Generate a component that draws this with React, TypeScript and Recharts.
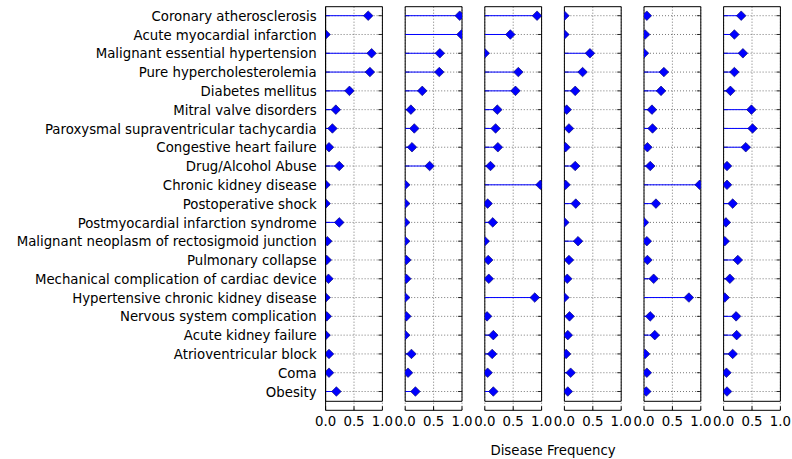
import { BarChart, Bar, XAxis, YAxis, CartesianGrid, ReferenceArea } from "recharts";

const categories = [
  "Coronary atherosclerosis",
  "Acute myocardial infarction",
  "Malignant essential hypertension",
  "Pure hypercholesterolemia",
  "Diabetes mellitus",
  "Mitral valve disorders",
  "Paroxysmal supraventricular tachycardia",
  "Congestive heart failure",
  "Drug/Alcohol Abuse",
  "Chronic kidney disease",
  "Postoperative shock",
  "Postmyocardial infarction syndrome",
  "Malignant neoplasm of rectosigmoid junction",
  "Pulmonary collapse",
  "Mechanical complication of cardiac device",
  "Hypertensive chronic kidney disease",
  "Nervous system complication",
  "Acute kidney failure",
  "Atrioventricular block",
  "Coma",
  "Obesity",
];

// disease frequency per cluster, same order as categories
const group1 = [0.75, 0, 0.81, 0.78, 0.42, 0.18, 0.12, 0.06, 0.24, 0, 0, 0.24, 0.03, 0.02, 0.05, 0, 0.02, 0, 0.06, 0.06, 0.19];
const group2 = [0.96, 0.99, 0.61, 0.6, 0.3, 0.1, 0.16, 0.12, 0.43, 0, 0, 0, 0, 0.02, 0.02, 0, 0.02, 0, 0.11, 0.05, 0.18];
const group3 = [0.92, 0.45, 0, 0.59, 0.54, 0.22, 0.19, 0.23, 0.1, 0.98, 0.05, 0.14, 0, 0.06, 0.07, 0.88, 0.04, 0.15, 0.13, 0.05, 0.15];
const group4 = [0, 0, 0.45, 0.32, 0.19, 0.04, 0.08, 0.02, 0.19, 0.02, 0.2, 0, 0.24, 0.08, 0.05, 0, 0.09, 0.06, 0.03, 0.11, 0.06];
const group5 = [0.05, 0.02, 0, 0.35, 0.3, 0.14, 0.15, 0.06, 0.11, 0.98, 0.21, 0, 0.05, 0.06, 0.17, 0.79, 0.11, 0.19, 0.02, 0.05, 0.04];
const group6 = [0.31, 0.19, 0.34, 0.19, 0.12, 0.49, 0.51, 0.39, 0.06, 0.06, 0.16, 0.04, 0.02, 0.25, 0.11, 0.02, 0.22, 0.23, 0.16, 0.05, 0.06];

const groups = [group1, group2, group3, group4, group5, group6];
const xTicks = [0, 0.5, 1];

const W = 792;
const H = 459;
const FIRST_LEFT = 325.6;
const STEP = 79.6;
const PANEL_W = 56.8;
const FONT = "DejaVu Sans";
const tickStyle = { fontSize: 13.3, fill: "#000", fontFamily: FONT };

const renderStem = (props: any) => {
  const { x, y, width, height } = props;
  const cy = y + height / 2;
  const tip = x + width;
  const r = 4.8;
  return (
    <g>
      <line x1={x} x2={tip} y1={cy} y2={cy} stroke="#0000ff" strokeWidth={1} />
      <polygon
        points={`${tip},${cy - r} ${tip + r},${cy} ${tip},${cy + r} ${tip - r},${cy}`}
        fill="#0000ff"
        stroke="#000066"
        strokeWidth={0.6}
      />
    </g>
  );
};

// dotted row grid line plus the small inward ticks on both frame edges
const renderRowGuide = (props: any) => {
  const { x, y, width, height } = props;
  const cy = y + height / 2;
  return (
    <g>
      <line x1={x} x2={x + width} y1={cy} y2={cy} stroke="#555" strokeWidth={0.8} strokeDasharray="1 2" />
      <line x1={x} x2={x + 4} y1={cy} y2={cy} stroke="#000" strokeWidth={0.8} />
      <line x1={x + width - 4} x2={x + width} y1={cy} y2={cy} stroke="#000" strokeWidth={0.8} />
    </g>
  );
};

function Panel({ values, index }: { values: number[]; index: number }) {
  const data = categories.map((name, i) => ({ name, value: values[i] }));
  const left = FIRST_LEFT + index * STEP;
  const right = W - left - PANEL_W;
  const first = index === 0;

  return (
    <div style={{ position: "absolute", left: 0, top: 0 }}>
      <BarChart
        width={W}
        height={H}
        data={data}
        layout="vertical"
        margin={{ top: 6.7, right, bottom: 18.7, left: first ? 0 : left }}
      >
        <CartesianGrid
          xAxisId="b"
          yAxisId="l"
          horizontal={false}
          stroke="#555"
          strokeDasharray="1 2"
          strokeWidth={0.8}
        />
        <XAxis
          xAxisId="b"
          type="number"
          domain={[0, 1]}
          ticks={xTicks}
          interval={0}
          allowDataOverflow
          tickFormatter={(v: number) => v.toFixed(1)}
          tick={tickStyle}
          tickSize={-4}
          tickMargin={10}
          height={30}
          stroke="#000"
        />
        <YAxis
          yAxisId="l"
          type="category"
          dataKey="name"
          width={first ? left : 0}
          interval={0}
          tick={first ? tickStyle : false}
          tickLine={false}
          tickSize={-4}
          tickMargin={13}
          padding={{ top: 0, bottom: 9 }}
          stroke="#000"
        />
        <Bar
          dataKey="value"
          xAxisId="b"
          yAxisId="l"
          barSize={2}
          background={renderRowGuide}
          shape={renderStem}
          isAnimationActive={false}
        />
        <ReferenceArea
          xAxisId="b"
          yAxisId="l"
          x1={0}
          x2={1}
          fill="none"
          fillOpacity={0}
          stroke="#000"
          strokeWidth={1}
        />
      </BarChart>
    </div>
  );
}

export default function App() {
  return (
    <div
      style={{
        position: "absolute",
        left: 0,
        top: 0,
        width: W,
        height: H,
        background: "#fff",
        fontFamily: FONT,
      }}
    >
      {groups.map((g, i) => (
        <Panel key={i} values={g} index={i} />
      ))}
      <div
        style={{
          position: "absolute",
          left: 453,
          width: 200,
          top: 442,
          textAlign: "center",
          fontSize: 13.3,
          lineHeight: "17px",
          color: "#000",
        }}
      >
        Disease Frequency
      </div>
    </div>
  );
}
